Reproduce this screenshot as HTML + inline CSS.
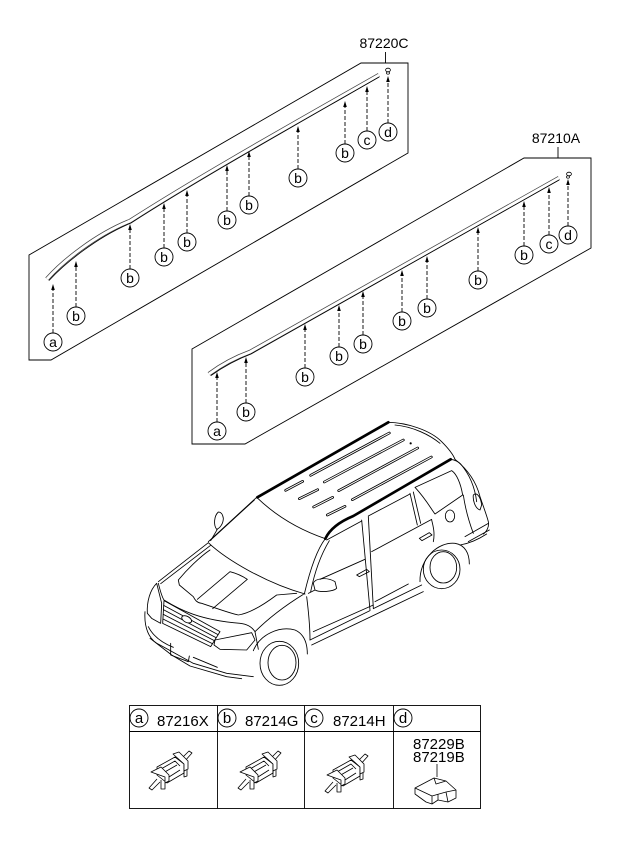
<!DOCTYPE html>
<html><head><meta charset="utf-8"><style>
html,body{margin:0;padding:0;background:#fff;}
svg{display:block;}
text{font-family:"Liberation Sans",Arial,sans-serif;fill:#000;}
</style></head><body>
<svg width="620" height="848" viewBox="0 0 620 848" xmlns="http://www.w3.org/2000/svg">
<defs>
<g id="arr"><path d="M-1.8,6 L0,0 L1.8,6 Z" fill="#000"/></g>
<g id="clip" fill="none" stroke="#000" stroke-width="0.8" stroke-linejoin="round">
 <path d="M33,13 L42,4 L45,6 L37,15"/>
 <path d="M10,20 L28,10 L37,17 L37,26 L20,36 L10,28 Z" fill="#fff"/>
 <path d="M14,22 L28,14 L33,19 M16,26 L30,18 M22,30 L33,23"/>
 <path d="M26,7 L32,5 L41,14 L41,22 L37,24 L37,17 Z" fill="#fff"/>
 <path d="M4,25 L14,20 L22,28 L22,34 L18,36 L18,30 Z" fill="#fff"/>
 <path d="M10,32 L2,41 L5,43 L13,35"/>
 <path d="M14,33 L14,42 L18,42 L18,36"/>
 <path d="M37,24 L37,30 L40,29 L40,23"/>
</g>
</defs>

<!-- Panel 1 -->
<polygon points="361,63 408,63 408,153 51,360 29,360 29,255" fill="none" stroke="#000" stroke-width="0.9"/>
<line x1="385.5" y1="52" x2="385.5" y2="63" stroke="#000" stroke-width="0.9"/>
<text x="384" y="48" font-size="14" text-anchor="middle">87220C</text>
<path d="M47,279 C 62,262 95,235 130,221 C 200,176 300,120 379,75" fill="none" stroke="#444" stroke-width="4.4"/>
<path d="M47,279 C 62,262 95,235 130,221 C 200,176 300,120 379,75" fill="none" stroke="#fff" stroke-width="2.9"/>
<path d="M49,280.5 C 64,264 97,237 131,223 C 201,178 301,122 379,77" fill="none" stroke="#000" stroke-width="0.8"/>
<ellipse cx="388" cy="70" rx="2.4" ry="1.8" fill="none" stroke="#000" stroke-width="0.8"/>
<ellipse cx="388" cy="73" rx="1.6" ry="1.2" fill="none" stroke="#000" stroke-width="0.7"/>

<g stroke="#000" stroke-width="0.9" stroke-dasharray="4 2" fill="none">
<line x1="53" y1="333" x2="53" y2="288"/>
<line x1="76" y1="307" x2="76" y2="265"/>
<line x1="130" y1="269" x2="130" y2="228"/>
<line x1="164" y1="248" x2="164" y2="207"/>
<line x1="187" y1="233" x2="187" y2="194"/>
<line x1="227" y1="211" x2="227" y2="169"/>
<line x1="249" y1="196" x2="249" y2="155"/>
<line x1="298" y1="169" x2="298" y2="130"/>
<line x1="345" y1="144" x2="345" y2="105"/>
<line x1="367" y1="131" x2="367" y2="90"/>
<line x1="388" y1="123" x2="388" y2="80"/>
</g>
<use href="#arr" x="53" y="284"/><use href="#arr" x="76" y="261"/><use href="#arr" x="130" y="224"/>
<use href="#arr" x="164" y="203"/><use href="#arr" x="187" y="190"/><use href="#arr" x="227" y="165"/>
<use href="#arr" x="249" y="151"/><use href="#arr" x="298" y="126"/><use href="#arr" x="345" y="101"/>
<use href="#arr" x="367" y="86"/><use href="#arr" x="388" y="76"/>

<g fill="#fff" stroke="#000" stroke-width="0.9">
<circle cx="53" cy="342" r="9"/><circle cx="76" cy="316" r="9"/><circle cx="130" cy="278" r="9"/>
<circle cx="164" cy="257" r="9"/><circle cx="187" cy="242" r="9"/><circle cx="227" cy="220" r="9"/>
<circle cx="249" cy="205" r="9"/><circle cx="298" cy="178" r="9"/><circle cx="345" cy="153" r="9"/>
<circle cx="367" cy="140" r="9"/><circle cx="388" cy="132" r="9"/>
</g>
<g font-size="14" text-anchor="middle">
<text x="53" y="347">a</text><text x="76" y="321">b</text><text x="130" y="283">b</text>
<text x="164" y="262">b</text><text x="187" y="247">b</text><text x="227" y="225">b</text>
<text x="249" y="210">b</text><text x="298" y="183">b</text><text x="345" y="158">b</text>
<text x="367" y="145">c</text><text x="388" y="137">d</text>
</g>

<!-- Panel 2 -->
<polygon points="524,158 591,158 591,248 245,444 192,444 192,349" fill="none" stroke="#000" stroke-width="0.9"/>
<line x1="558" y1="147" x2="558" y2="158" stroke="#000" stroke-width="0.9"/>
<text x="556" y="143" font-size="14" text-anchor="middle">87210A</text>
<path d="M209,374 Q228,360 250,352 L559,178" fill="none" stroke="#444" stroke-width="4.4"/>
<path d="M209,374 Q228,360 250,352 L559,178" fill="none" stroke="#fff" stroke-width="2.9"/>
<path d="M211,375.5 Q230,362 251,354 L559,180" fill="none" stroke="#000" stroke-width="0.8"/>
<ellipse cx="569" cy="174" rx="2.4" ry="1.8" fill="none" stroke="#000" stroke-width="0.8"/>
<ellipse cx="568" cy="177" rx="1.6" ry="1.2" fill="none" stroke="#000" stroke-width="0.7"/>

<g stroke="#000" stroke-width="0.9" stroke-dasharray="4 2" fill="none">
<line x1="217" y1="422" x2="217" y2="378"/>
<line x1="246" y1="403" x2="246" y2="363"/>
<line x1="305" y1="368" x2="305" y2="330"/>
<line x1="339" y1="347" x2="339" y2="311"/>
<line x1="363" y1="335" x2="363" y2="297"/>
<line x1="402" y1="312" x2="402" y2="276"/>
<line x1="427" y1="299" x2="427" y2="262"/>
<line x1="478" y1="271" x2="478" y2="233"/>
<line x1="524" y1="246" x2="524" y2="207"/>
<line x1="549" y1="235" x2="549" y2="193"/>
<line x1="568" y1="226" x2="568" y2="185"/>
</g>
<use href="#arr" x="217" y="372"/><use href="#arr" x="246" y="357"/><use href="#arr" x="305" y="324"/>
<use href="#arr" x="339" y="305"/><use href="#arr" x="363" y="291"/><use href="#arr" x="402" y="270"/>
<use href="#arr" x="427" y="256"/><use href="#arr" x="478" y="227"/><use href="#arr" x="524" y="201"/>
<use href="#arr" x="549" y="187"/><use href="#arr" x="568" y="179"/>

<g fill="#fff" stroke="#000" stroke-width="0.9">
<circle cx="217" cy="431" r="9"/><circle cx="246" cy="412" r="9"/><circle cx="305" cy="377" r="9"/>
<circle cx="339" cy="356" r="9"/><circle cx="363" cy="344" r="9"/><circle cx="402" cy="321" r="9"/>
<circle cx="427" cy="308" r="9"/><circle cx="478" cy="280" r="9"/><circle cx="524" cy="255" r="9"/>
<circle cx="549" cy="244" r="9"/><circle cx="568" cy="235" r="9"/>
</g>
<g font-size="14" text-anchor="middle">
<text x="217" y="436">a</text><text x="246" y="417">b</text><text x="305" y="382">b</text>
<text x="339" y="361">b</text><text x="363" y="349">b</text><text x="402" y="326">b</text>
<text x="427" y="313">b</text><text x="478" y="285">b</text><text x="524" y="260">b</text>
<text x="549" y="249">c</text><text x="568" y="240">d</text>
</g>

<!-- Car -->
<g transform="translate(140 410) scale(0.33333)" fill="none" stroke="#000" stroke-width="2.6" stroke-linejoin="round" stroke-linecap="round">
 <path d="M352,262 L745,37" stroke-width="8"/>
 <path d="M556,386 Q575,345 640,318 L932,148" stroke-width="8"/>
 <path d="M350,262 C410,320 480,360 556,386"/>
 <path d="M745,37 C800,38 870,60 905,95 C925,115 940,135 945,148"/>
 <path d="M765,45 C820,50 870,75 900,100"/>
 <path d="M932,148 C945,150 955,155 962,162"/>
 <g stroke-width="8"><path d="M437,241 L488,214"/><path d="M512,196 L748,69"/><path d="M478,266 L533,239"/><path d="M553,216 L790,90"/><path d="M521,291 L578,262"/><path d="M596,242 L833,114"/><path d="M562,315 L615,289"/><path d="M637,269 L874,141"/></g>
 <g stroke="#fff" stroke-width="3"><path d="M437,241 L488,214"/><path d="M512,196 L748,69"/><path d="M478,266 L533,239"/><path d="M553,216 L790,90"/><path d="M521,291 L578,262"/><path d="M596,242 L833,114"/><path d="M562,315 L615,289"/><path d="M637,269 L874,141"/></g>
 <circle cx="812" cy="100" r="2" fill="#000"/>
 <path d="M945,148 C985,180 1010,220 1020,260 C1030,290 1040,315 1045,335 C1048,350 1040,365 1030,372"/>
 <path d="M962,162 C990,195 1005,235 1010,275"/>
 <path d="M1000,255 C1010,245 1022,260 1025,285 L1020,300 C1005,295 998,270 1000,255 Z"/>
 <path d="M975,380 L1045,340 M985,395 L1048,360 M960,405 C990,400 1020,385 1040,372"/>
 <path d="M825,232 L935,182 C950,192 962,220 968,255 L885,312 C875,300 860,270 825,232 Z"/>
 <path d="M810,250 L832,345 M820,246 L842,340"/>
 <path d="M685,318 L810,252 M695,425 L875,328"/>
 <path d="M560,390 L665,333 M540,508 L675,448"/>
 <path d="M665,330 L690,600 M685,320 L700,595"/>
 <path d="M568,392 C545,430 525,480 512,545"/>
 <path d="M350,262 L205,395 M343,270 L212,390"/>
 <path d="M556,386 C530,420 510,480 493,552"/>
 <path d="M205,398 C260,450 380,520 495,552"/>
 <path d="M235,306 C222,318 220,345 230,358 C240,355 250,340 250,325 C248,312 242,306 235,306 Z M232,358 L212,392"/>
 <path d="M520,520 C525,505 560,500 585,515 L590,535 C580,545 540,548 525,540 Z M525,540 L505,550"/>
 <path d="M650,495 L680,478 L688,485 L658,500 Z M838,385 L868,368 L876,375 L846,392 Z"/>
 <ellipse cx="930" cy="318" rx="14" ry="18"/>
 <path d="M500,560 C505,600 510,650 510,690"/>
 <path d="M510,690 L690,602 M700,596 L845,525"/>
 <path d="M515,705 L850,545 M520,665 L700,585 M705,575 L805,522"/>
 <path d="M875,330 C880,350 885,370 880,395 M970,255 C975,290 985,330 1000,370"/>
 <path d="M840,515 C838,445 895,395 945,400 C975,405 988,430 988,462"/>
 <ellipse cx="905" cy="478" rx="55" ry="58"/>
 <ellipse cx="910" cy="472" rx="40" ry="47"/>
 <path d="M340,722 C360,672 420,647 465,660 C492,672 502,700 502,732"/>
 <ellipse cx="418" cy="760" rx="58" ry="66"/>
 <ellipse cx="426" cy="758" rx="42" ry="52"/>
 <path d="M205,398 L55,515 M212,406 L62,521"/>
 <path d="M210,420 C180,440 140,480 115,510 L118,525 L160,560 C165,570 170,578 185,580 C230,595 270,610 295,615 C330,610 370,585 410,555 L470,550"/>
 <path d="M172,568 L270,485 M218,596 L322,508 M270,485 C290,490 310,500 322,508"/>
 <path d="M490,553 C430,590 380,630 345,665"/>
 <path d="M55,520 C60,540 65,560 72,570 M72,570 C120,600 180,630 300,640 C320,642 335,650 345,665"/>
 <path d="M72,572 L240,665 L212,710 L68,640 Z"/>
 <path d="M71,586 L234,674 M70,599 L228,683 M70,613 L223,692 M69,627 L217,701"/>
 <ellipse cx="140" cy="628" rx="16" ry="9" transform="rotate(28 140 628)" fill="#fff"/>
 <path d="M50,520 C30,540 20,575 22,610 L35,625 L62,640 L65,580 Z"/>
 <path d="M225,690 L335,668 L345,690 L320,720 L240,718 L222,705 Z"/>
 <path d="M15,605 C12,650 25,690 60,705 L160,760 L260,790 L340,800"/>
 <path d="M25,650 C40,680 70,700 100,712"/>
 <path d="M92,700 L92,735 L145,755 L148,738"/>
 <path d="M30,685 L95,735 L150,768 L260,800 L305,806"/>
 <path d="M160,742 L232,772 M345,665 L355,718"/>
</g>

<!-- Table -->
<g fill="none" stroke="#000" stroke-width="0.9">
<rect x="129.5" y="705.5" width="351" height="103"/>
<line x1="129.5" y1="731.5" x2="480.5" y2="731.5"/>
<line x1="217.5" y1="705.5" x2="217.5" y2="808.5"/>
<line x1="304.5" y1="705.5" x2="304.5" y2="808.5"/>
<line x1="393.5" y1="705.5" x2="393.5" y2="808.5"/>
<circle cx="139" cy="718" r="9"/><circle cx="227" cy="718" r="9"/><circle cx="314" cy="718" r="9"/><circle cx="403" cy="718" r="9"/>
</g>
<g font-size="15">
<text x="139" y="723" text-anchor="middle">a</text><text x="157" y="726">87216X</text>
<text x="227" y="723" text-anchor="middle">b</text><text x="245" y="726">87214G</text>
<text x="314" y="723" text-anchor="middle">c</text><text x="333" y="726">87214H</text>
<text x="403" y="723" text-anchor="middle">d</text>
<text x="413" y="749">87229B</text>
<text x="413" y="762">87219B</text>
</g>
<use href="#clip" x="147" y="747"/>
<use href="#clip" x="236" y="747"/>
<use href="#clip" x="323" y="750"/>
<line x1="437" y1="764" x2="437" y2="777" stroke="#000" stroke-width="0.8"/>
<g transform="translate(412 772)" fill="none" stroke="#000" stroke-width="0.8" stroke-linejoin="round">
<path d="M3,16 L22,6 L34,9 L44,18 L44,26 L36,30 L26,28 L20,32 L14,30 L3,22 Z"/>
<path d="M3,16 L20,24 L34,20 L44,18 M20,24 L20,32 M34,20 L36,30 M26,28 L26,22 M22,6 L24,12 L34,9"/>
</g>
</svg>
</body></html>
